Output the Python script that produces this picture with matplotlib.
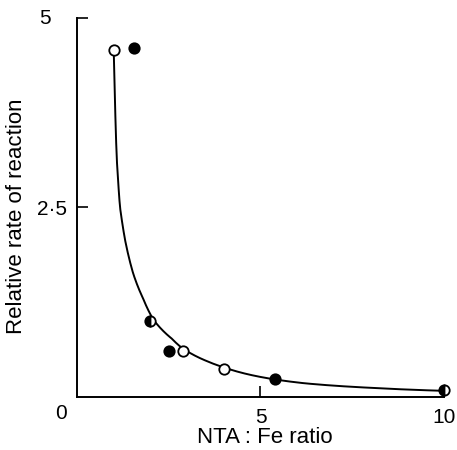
import numpy as np
import matplotlib
matplotlib.use("Agg")
import matplotlib.pyplot as plt

plt.rcParams['font.family'] = ['Liberation Sans', 'DejaVu Sans']

# Measured points (NTA:Fe ratio, relative rate)
open_x = [1.0, 2.9, 4.0]
open_y = [4.58, 0.6, 0.37]
filled_x = [1.55, 2.5, 5.4]
filled_y = [4.6, 0.6, 0.23]
half_x = [2.0, 10.0]
half_y = [1.0, 0.09]

# Fitted curve
curve_x = [1.0, 1.08, 1.17, 1.31, 1.53, 1.8, 2.08, 2.58, 2.85, 3.5, 4.0, 5.4, 6.2, 8.0, 10.0]
curve_y = [4.58, 3.17, 2.51, 2.07, 1.63, 1.3, 1.02, 0.77, 0.65, 0.48, 0.39, 0.23, 0.18, 0.12, 0.08]

fig = plt.figure(figsize=(4.57, 4.50), dpi=100)
ax = fig.add_axes([0.1685, 0.118, 0.803, 0.842])

# smooth the hand-read curve by interpolating in log-log space
xs = np.linspace(curve_x[0], curve_x[-1], 400)
ys = np.exp(np.interp(np.log(xs), np.log(curve_x), np.log(curve_y)))
ax.plot(xs, ys, color='black', lw=1.4, zorder=2)

ms = 7.5
ax.plot(open_x, open_y, 'o', ms=ms, mfc='white', mec='black', mew=1.3, zorder=3, clip_on=False)
ax.plot(filled_x, filled_y, 'o', ms=ms, mfc='black', mec='black', mew=1.3, zorder=3, clip_on=False)
ax.plot(half_x, half_y, 'o', ms=ms, fillstyle='left', mfc='black', mfcalt='white',
        mec='black', mew=1.3, zorder=3, clip_on=False)

ax.set_xlim(0, 10)
ax.set_ylim(0, 5)
for s in ['top', 'right']:
    ax.spines[s].set_visible(False)
for s in ['left', 'bottom']:
    ax.spines[s].set_linewidth(1.4)

tick_fs = 15
ax.set_xticks([5, 10])
ax.set_xticklabels(['5', '10'], fontsize=tick_fs)
ax.set_yticks([2.5, 5])
ax.set_yticklabels(['2·5', ''], fontsize=tick_fs)
ax.tick_params(direction='in', length=8, width=1.2)
ax.tick_params(axis='x', pad=8)
ax.tick_params(axis='y', pad=7)

ax.text(-0.87, 5.0, '5', ha='center', va='center', fontsize=tick_fs)
ax.text(-0.44, -0.22, '0', ha='center', va='center', fontsize=tick_fs)

# axis titles placed where they sit in the original figure
fig.text(265 / 457, 1 - 443 / 450, 'NTA : Fe ratio', ha='center', va='baseline', fontsize=16)
fig.text(17 / 457, 1 - 216 / 450, 'Relative rate of reaction', ha='center', va='center',
         rotation=90, fontsize=16)

fig.savefig('out.png', dpi=100)
